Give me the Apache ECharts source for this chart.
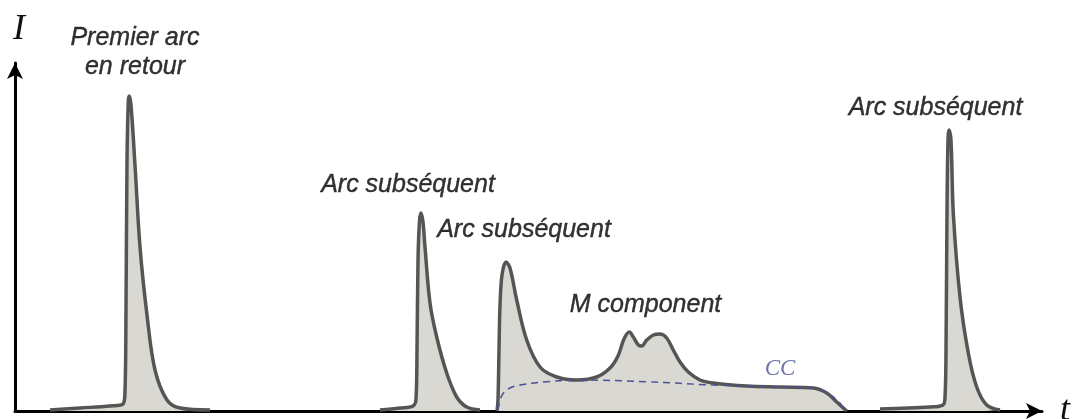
<!DOCTYPE html>
<html>
<head>
<meta charset="utf-8">
<script src="https://cdn.jsdelivr.net/npm/echarts@6/dist/echarts.min.js"></script>
<style>html,body{margin:0;padding:0;background:#fff;}#c{width:1073px;height:419px;}</style>
</head>
<body>
<div id="c"></div>
<script>
// Values: [t, I] in arbitrary units
var firstStroke = [[35,1],[65,3],[95,5],[108,7],[110,20],[111,100],[112,250],[113.3,310],[114.3,315],[116,306],[120,246],[125,164],[132,96],[140,41],[152,11],[165,3],[195,1]];
var subsequent1 = [[365,1],[385,3],[398,5],[401,12],[402,60],[403,150],[404.5,190],[406,198],[408,189],[410,164],[415,108],[421.7,74],[431.7,38],[441.7,14],[451.7,4],[465,1]];
var subsequent2 = [[482,0],[483,11],[484,61],[485,105],[487,136],[491,149],[495,143],[501.7,111],[511.7,71],[525,44],[541.7,34],[561.7,31],[581.7,34],[595,43],[603,55],[609,72],[614.3,79],[618.3,74],[623.3,66],[626.7,65],[631.7,71],[638.3,76],[645,77],[651.7,73],[658.3,61],[665,49],[673.3,39],[685,31],[698.3,28],[731.7,25],[765,24],[798.3,23],[811.7,18],[821.7,9],[828.3,3],[831.7,0]];
var continuingCurrent = [[483,1],[485,11],[488.3,17.7],[495,23],[505,26],[531.7,29.3],[565,31],[631.7,29.3],[698,26],[765,24.3],[798,23],[815,16],[823,10],[828,4],[831,1]];
var subsequent3 = [[865,2],[915,4],[928,6],[930,14],[931,60],[932,200],[933,272],[934,281],[936,271],[938.3,198],[945,114],[953.3,58],[961.7,24],[971.7,6],[985,1]];

var labelTexts = ['Premier arc\nen retour', 'Arc subséquent', 'Arc subséquent', 'M component', 'Arc subséquent'];
var labelAnchors = [[120,358],[393,226],[509,181],[630.5,106],[920.5,303]];
var ccText = 'CC';
var ccAnchor = [765,42];
var axisNames = ['t', 'I'];
var tMax = 1027, iMax = 348;

var chart = echarts.init(document.getElementById('c'), null, {renderer:'canvas'});
var LINE = '#555553', FILL = '#d9d8d3';
function pulse(data){
  return {type:'line', data:data, smooth:0.35, symbol:'none', silent:true,
    lineStyle:{color:LINE, width:3.5, join:'round'}, areaStyle:{color:FILL, opacity:1}, z:2};
}
var labelData = labelTexts.map(function(t,i){ return {value:labelAnchors[i], label:{formatter:t}}; });
chart.setOption({
  animation:false,
  grid:{left:15, right:31, top:63, bottom:8, containLabel:false, outerBoundsMode:'none'},
  xAxis:{type:'value', min:0, max:tMax, name:axisNames[0], nameLocation:'end', nameGap:18,
    nameTextStyle:{fontFamily:'Liberation Serif', fontStyle:'italic', fontSize:36, color:'#111', verticalAlign:'middle'},
    axisLine:{show:true, onZero:false, symbol:['none','arrow'], symbolSize:[12,16], lineStyle:{color:'#000', width:3}},
    axisTick:{show:false}, axisLabel:{show:false}, splitLine:{show:false}},
  yAxis:{type:'value', min:0, max:iMax, name:axisNames[1], nameLocation:'end', nameGap:15,
    nameTextStyle:{fontFamily:'Liberation Serif', fontStyle:'italic', fontSize:36, color:'#111', align:'center', padding:[0,0,0,8]},
    axisLine:{show:true, onZero:false, symbol:['none','arrow'], symbolSize:[12,16], lineStyle:{color:'#000', width:3}},
    axisTick:{show:false}, axisLabel:{show:false}, splitLine:{show:false}},
  series:[
    pulse(firstStroke), pulse(subsequent1), pulse(subsequent2), pulse(subsequent3),
    {type:'line', data:continuingCurrent, smooth:0.35, symbol:'none', silent:true, z:3,
      lineStyle:{color:'#4a5196', width:1.5, type:[7,5]}},
    {type:'scatter', clip:false, symbolSize:0, silent:true, z:5,
      label:{show:true, position:'inside', fontFamily:'Liberation Sans', fontStyle:'italic', fontSize:25, lineHeight:29, color:'#000', textBorderColor:'#000', textBorderWidth:0.4, align:'center', verticalAlign:'middle'},
      data:labelData},
    {type:'scatter', clip:false, symbolSize:0, silent:true, z:5,
      label:{show:true, position:'inside', formatter:ccText, fontFamily:'Liberation Serif', fontStyle:'italic', fontSize:23, color:'#4a5196', textBorderWidth:0, align:'center', verticalAlign:'middle'},
      data:[ccAnchor]}
  ]
});
</script>
</body>
</html>
